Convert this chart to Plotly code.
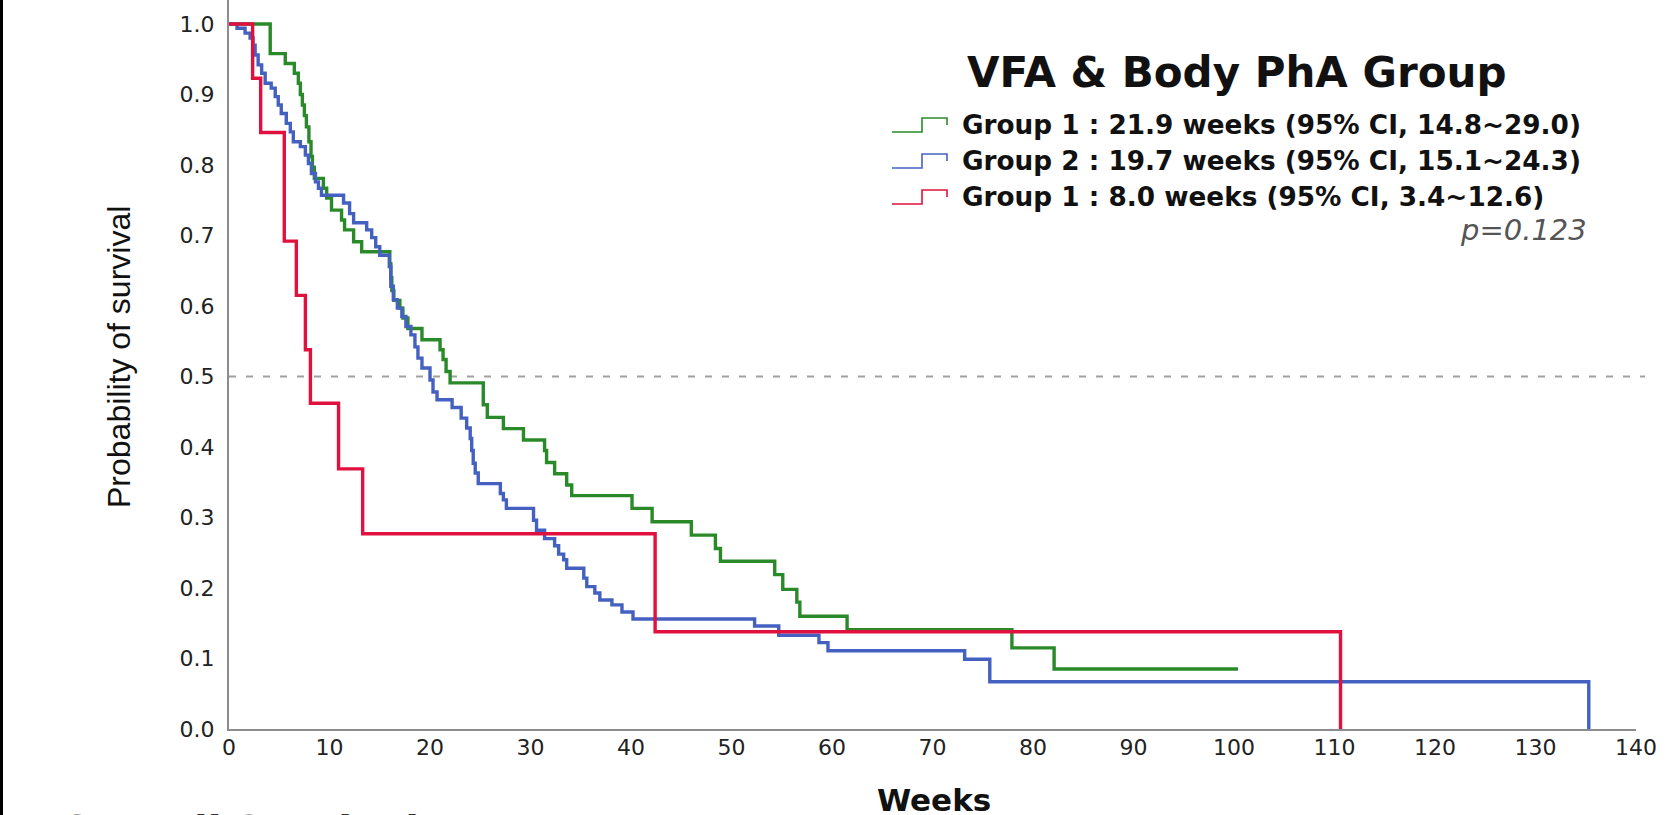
import plotly.graph_objects as go

# ---------------- data ----------------
x_ticks = [0, 10, 20, 30, 40, 50, 60, 70, 80, 90, 100, 110, 120, 130, 140]
y_ticks = [0.0, 0.1, 0.2, 0.3, 0.4, 0.5, 0.6, 0.7, 0.8, 0.9, 1.0]
y_tick_text = ["0.0", "0.1", "0.2", "0.3", "0.4", "0.5", "0.6", "0.7", "0.8", "0.9", "1.0"]

g1_weeks = [0, 4.1, 5.6, 6.5, 6.9, 7.1, 7.3, 7.5, 7.7, 7.95, 8.16, 8.3, 8.49, 9.39, 9.72,
            10.2, 11.2, 11.5, 12.4, 13.2, 16.0, 16.1, 16.2, 16.4, 17.0, 17.3, 17.8, 19.2,
            21.0, 21.3, 21.6, 22.0, 25.3, 25.7, 27.3, 29.3, 31.4, 31.6, 32.4, 33.6, 34.1,
            40.1, 42.1, 46.0, 48.4, 48.9, 54.3, 55.1, 56.5, 56.8, 61.5, 77.9, 82.1, 100.4]
g1_surv = [1.0, 0.958, 0.944, 0.930, 0.916, 0.900, 0.885, 0.870, 0.854, 0.833, 0.812, 0.797,
           0.781, 0.767, 0.753, 0.736, 0.722, 0.708, 0.691, 0.677, 0.660, 0.640, 0.622, 0.608,
           0.597, 0.583, 0.568, 0.552, 0.538, 0.524, 0.507, 0.491, 0.460, 0.442, 0.426, 0.410,
           0.395, 0.378, 0.362, 0.346, 0.331, 0.313, 0.294, 0.275, 0.256, 0.238, 0.219, 0.198,
           0.180, 0.160, 0.141, 0.115, 0.085, 0.085]

g2_weeks = [0, 0.8, 1.6, 2.1, 2.4, 2.6, 2.9, 3.25, 3.6, 4.2, 4.6, 4.9, 5.2, 5.7, 6.1, 6.4,
            7.1, 7.6, 7.9, 8.2, 8.6, 8.9, 9.2, 11.4, 12.0, 12.4, 13.7, 14.2, 14.6, 15.0,
            15.95, 16.1, 16.35, 16.75, 17.2, 17.6, 18.1, 18.5, 18.8, 19.2, 20.0, 20.3, 20.7,
            22.2, 23.1, 23.65, 24.0, 24.15, 24.3, 24.5, 24.8, 27.0, 27.3, 27.6, 30.3, 30.6,
            31.4, 32.4, 32.8, 33.3, 33.6, 35.3, 35.6, 36.4, 36.9, 38.1, 39.1, 40.2, 52.3,
            54.7, 58.7, 59.6, 73.2, 75.7, 135.3]
g2_surv = [1.0, 0.994, 0.987, 0.980, 0.970, 0.956, 0.942, 0.930, 0.916, 0.909, 0.897, 0.885,
           0.873, 0.859, 0.847, 0.833, 0.826, 0.814, 0.802, 0.788, 0.776, 0.767, 0.757, 0.746,
           0.731, 0.718, 0.708, 0.697, 0.684, 0.672, 0.656, 0.628, 0.609, 0.597, 0.585, 0.571,
           0.559, 0.542, 0.526, 0.512, 0.495, 0.478, 0.467, 0.456, 0.441, 0.427, 0.412, 0.395,
           0.377, 0.363, 0.348, 0.334, 0.325, 0.313, 0.296, 0.282, 0.270, 0.260, 0.248, 0.240,
           0.228, 0.214, 0.202, 0.193, 0.183, 0.176, 0.166, 0.156, 0.146, 0.133, 0.1225, 0.111,
           0.099, 0.067, 0.0]

g3_weeks = [0, 2.35, 3.15, 5.5, 6.7, 7.6, 8.1, 10.9, 13.3, 42.4, 110.6]
g3_surv = [1.0, 0.923, 0.846, 0.692, 0.615, 0.538, 0.462, 0.369, 0.277, 0.138, 0.0]

legend_labels = [
    "Group 1 : 21.9 weeks (95% CI, 14.8~29.0)",
    "Group 2 : 19.7 weeks (95% CI, 15.1~24.3)",
    "Group 1 : 8.0 weeks (95% CI, 3.4~12.6)",
]
legend_title = "VFA & Body PhA Group"
p_text = "p=0.123"
colors = ["#2a8a2a", "#4461c2", "#e0113f"]

# ---------------- layout helpers ----------------
W, H = 1671, 815
ML, MR, MT, MB = 229, 35, 0, 86
PW, PH = W - ML - MR, H - MT - MB


def px(x):
    return (x - ML) / PW


def py(y):
    return (H - MB - y) / PH


fig = go.Figure()
series = [(g1_weeks, g1_surv), (g2_weeks, g2_surv), (g3_weeks, g3_surv)]
for (t, s), c, name in zip(series, colors, legend_labels):
    fig.add_trace(go.Scatter(x=t, y=s, mode="lines", line=dict(color=c, width=3.4, shape="hv"),
                             name=name, showlegend=False, hoverinfo="skip"))

shapes = []
# reference line at 0.5
shapes.append(dict(type="line", xref="paper", yref="y", x0=0, x1=px(1645), y0=0.5, y1=0.5,
                   line=dict(color="#a0a0a0", width=2, dash="7px,10px"), layer="below"))
# left border artifact
shapes.append(dict(type="rect", xref="paper", yref="paper", x0=px(0), x1=px(3), y0=py(H), y1=py(0),
                   fillcolor="black", line=dict(width=0)))

annotations = []
# legend title
annotations.append(dict(text="<b>" + legend_title + "</b>", xref="paper", yref="paper",
                        x=px(1237), y=py(72), xanchor="center", yanchor="middle", showarrow=False,
                        font=dict(family="DejaVu Sans", size=42, color="#111")))
rows = [125, 161, 197]
for lab, c, cy in zip(legend_labels, colors, rows):
    annotations.append(dict(text="<b>" + lab + "</b>", xref="paper", yref="paper",
                            x=px(960), y=py(cy), xanchor="left", yanchor="middle", showarrow=False,
                            font=dict(family="DejaVu Sans", size=26.3, color="#111")))
    path = "M {a},{b} L {c},{b} L {c},{d} L {e},{d} L {e},{f}".format(
        a=px(892), b=py(cy + 7), c=px(922), d=py(cy - 7), e=px(947), f=py(cy))
    shapes.append(dict(type="path", xref="paper", yref="paper", path=path,
                       line=dict(color=c, width=1.6)))
annotations.append(dict(text="<i>" + p_text + "</i>", xref="paper", yref="paper",
                        x=px(1589), y=py(230), xanchor="right", yanchor="middle", showarrow=False,
                        font=dict(family="DejaVu Sans", size=29, color="#555")))
# axis titles
annotations.append(dict(text="Probability of survival", xref="paper", yref="paper",
                        x=px(119), y=py(357), xanchor="center", yanchor="middle", textangle=-90,
                        showarrow=False, font=dict(family="Liberation Sans", size=32, color="#111")))
annotations.append(dict(text="<b>Weeks</b>", xref="paper", yref="paper",
                        x=px(934), y=py(800), xanchor="center", yanchor="middle", showarrow=False,
                        font=dict(family="DejaVu Sans", size=31, color="#111")))
# cut-off caption at bottom
annotations.append(dict(text="<b>Overall Survival</b>", xref="paper", yref="paper",
                        x=px(58), y=py(806), xanchor="left", yanchor="top", showarrow=False,
                        font=dict(family="DejaVu Sans", size=40, color="#333")))

fig.update_layout(
    width=W, height=H,
    margin=dict(l=ML, r=MR, t=MT, b=MB),
    paper_bgcolor="white", plot_bgcolor="white",
    shapes=shapes, annotations=annotations,
    showlegend=False,
    xaxis=dict(range=[0, 140], tickvals=x_ticks, showgrid=False, zeroline=False,
               showline=True, linecolor="#8c8c8c", linewidth=2, ticks="", ticklen=0,
               ticklabelstandoff=-2,
               tickfont=dict(family="DejaVu Sans", size=22, color="#222")),
    yaxis=dict(range=[0, 1.034], tickvals=y_ticks, ticktext=y_tick_text, showgrid=False,
               zeroline=False, showline=True, linecolor="#8c8c8c", linewidth=2, ticks="",
               ticklen=0, ticklabelstandoff=8,
               tickfont=dict(family="DejaVu Sans", size=22, color="#222")),
)

fig.write_html("out.html", config={"displayModeBar": False},
               post_script="document.body.style.margin='0px';document.body.style.overflow='hidden';")
